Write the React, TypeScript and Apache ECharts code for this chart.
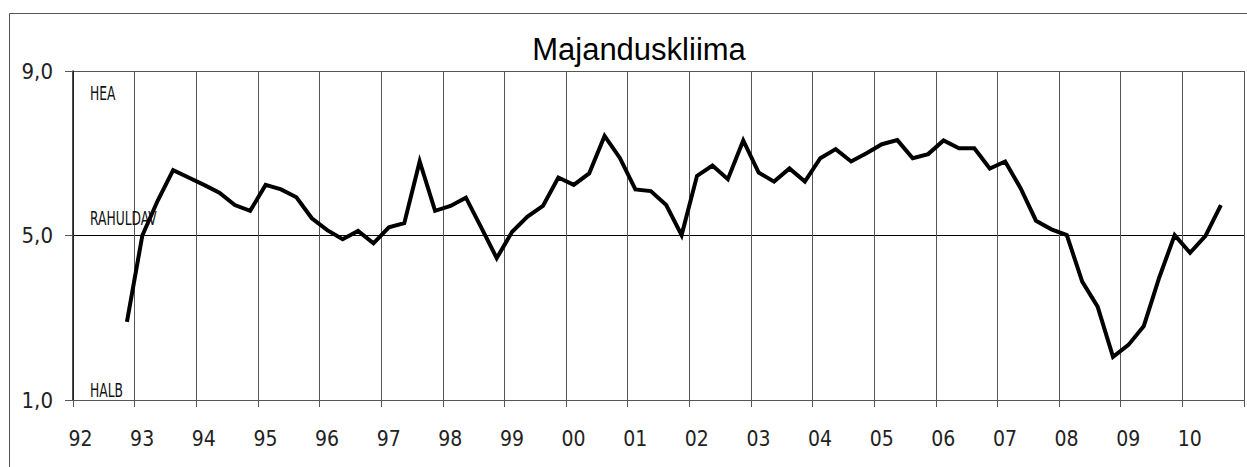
import React, { useEffect, useRef } from "react";
import * as echarts from "echarts";

const TITLE = "Majanduskliima";
const FIRST_YEAR = 1992;
const FIRST_QUARTER = 4; // series begins in the 4th quarter of 1992
const climateValues = [
  2.9, 5.0, 5.85, 6.59, 6.41, 6.23, 6.04, 5.74, 5.6,
  6.23, 6.12, 5.93, 5.42,
  5.13, 4.91, 5.11, 4.81,
  5.2, 5.3, 6.8, 5.6,
  5.72, 5.92, 5.19, 4.45,
  5.09, 5.46, 5.72, 6.41,
  6.23, 6.51, 7.42, 6.88,
  6.12, 6.08, 5.74, 5.01,
  6.45, 6.7, 6.37, 7.31,
  6.53, 6.31, 6.63, 6.31,
  6.88, 7.1, 6.8, 7.0,
  7.22, 7.32, 6.88, 6.98,
  7.31, 7.12, 7.12, 6.63,
  6.8, 6.15, 5.36, 5.15,
  5.01, 3.88, 3.27, 2.05,
  2.34, 2.8, 3.98, 5.01,
  4.58, 4.99, 5.74,
];
const yTicks = [1, 5, 9];
const xMin = 1992;
const xMax = 2011;
const zoneLabels = ["HEA", "RAHULDAV", "HALB"];
const zoneLabelY = [93.5, 218.5, 390.5];

const NARROW = '"Liberation Sans Narrow", "DejaVu Sans Condensed", "Arial Narrow", sans-serif';

export default function App() {
  const ref = useRef<HTMLDivElement>(null);
  useEffect(() => {
    document.body.style.margin = "0";
    const chart = echarts.init(ref.current!, null, { renderer: "svg" });
    const points = climateValues.map((v, i) => {
      const q = FIRST_QUARTER - 1 + i;
      const x = FIRST_YEAR + Math.floor(q / 4) + (q % 4) * 0.25 + 0.125;
      return [x, v];
    });
    const gridLeft = 73;
    const gridTop = 71;
    const gridBottomY = 400;
    chart.setOption({
      animation: false,
      backgroundColor: "#fff",
      title: {
        text: TITLE,
        left: 634,
        textAlign: "center",
        top: 29,
        textStyle: {
          fontFamily: '"Liberation Sans", Arial, sans-serif',
          fontSize: 31,
          fontWeight: "normal",
          color: "#000",
        },
      },
      grid: {
        left: gridLeft,
        top: gridTop,
        width: 1173,
        height: gridBottomY - gridTop,
        containLabel: false,
      },
      xAxis: {
        type: "value",
        min: xMin,
        max: xMax,
        interval: 1,
        axisLine: { show: true, lineStyle: { color: "#555", width: 1 } },
        axisTick: { show: true, length: 7, lineStyle: { color: "#555" } },
        splitLine: { show: true, lineStyle: { color: "#555", width: 1 } },
        axisLabel: {
          margin: 28,
          fontFamily: NARROW,
          fontSize: 21,
          color: "#222",
          padding: [0, 0, 0, 15],
          formatter: (v: number) => (v >= xMax ? "" : String(v % 100).padStart(2, "0")),
        },
      },
      yAxis: {
        type: "value",
        min: yTicks[0],
        max: yTicks[yTicks.length - 1],
        interval: 4,
        axisLine: { show: true, onZero: false, lineStyle: { color: "#111", width: 1.5 } },
        axisTick: { show: true, length: 8, lineStyle: { color: "#555" } },
        splitLine: { show: true, lineStyle: { color: ["#555", "#000", "#555"], width: 1 } },
        axisLabel: {
          margin: 20,
          fontFamily: NARROW,
          fontSize: 22,
          color: "#222",
          formatter: (v: number) => v.toFixed(1).replace(".", ","),
        },
      },
      graphic: [
        {
          type: "rect",
          silent: true,
          z: 0,
          shape: { x: 9.5, y: 13.5, width: 1250, height: 480 },
          style: { fill: "none", stroke: "#555", lineWidth: 1 },
        },
        ...zoneLabels.map((t, i) => ({
          type: "text",
          silent: true,
          z: 1,
          x: 90,
          y: zoneLabelY[i],
          scaleX: 0.72,
          style: {
            text: t,
            fontFamily: NARROW,
            fontSize: 19,
            fill: "#111",
            verticalAlign: "middle",
            align: "left",
          },
        })),
      ],
      series: [
        {
          type: "line",
          data: points,
          symbol: "none",
          z: 5,
          lineStyle: { color: "#000", width: 4, join: "miter" },
        },
      ],
    });
    return () => chart.dispose();
  }, []);
  return <div ref={ref} style={{ width: 1247, height: 467 }} />;
}
